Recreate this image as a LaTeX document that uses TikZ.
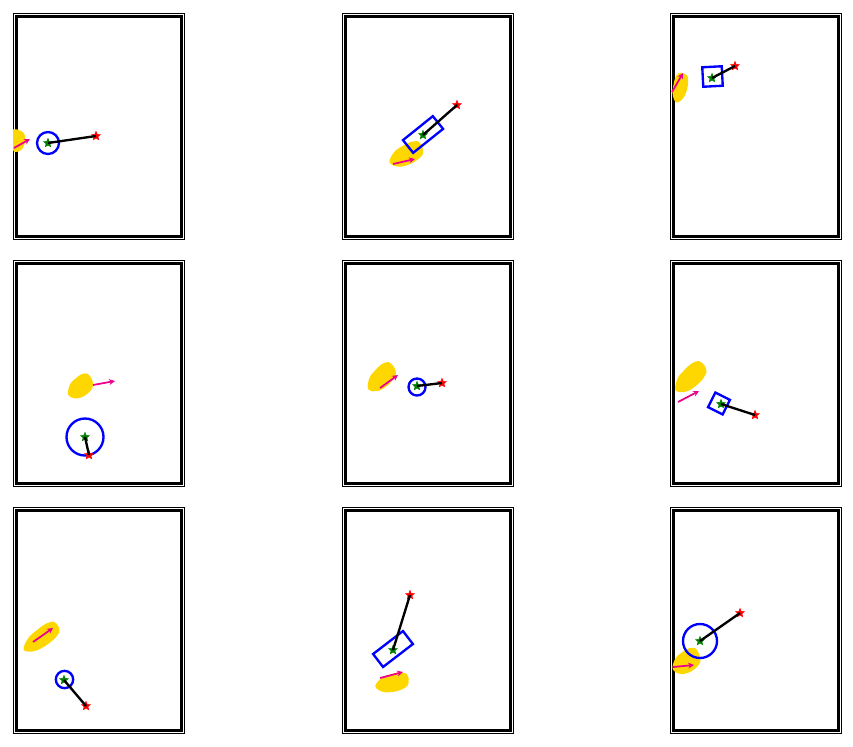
\documentclass[tikz,border=0pt]{standalone}
\usepackage{tikz}
\usetikzlibrary{shapes.geometric, arrows.meta}
\definecolor{gold}{RGB}{255,215,0}
\definecolor{dkgreen}{RGB}{0,128,0}

\begin{document}
\begin{tikzpicture}[x=0.03cm, y=-0.03cm,
    ring/.style={circle, draw=blue, line width=2pt, inner sep=0pt, outer sep=0pt},
    box/.style={rectangle, draw=blue, line width=2pt, inner sep=0pt, outer sep=0pt},
    startstar/.style={star, star points=5, star point ratio=2.3, fill=dkgreen, draw=dkgreen, minimum size=0.28cm, inner sep=0pt},
    goalstar/.style={startstar, fill=red, draw=red},
    link/.style={line width=2pt, black},
    heading/.style={-{Stealth[length=5pt, width=5pt]}, magenta, line width=1.5pt},
    blob/.pic={\fill[gold] plot[smooth cycle] coordinates {(-1,0.15) (-0.8,-0.3) (-0.45,-0.7) (0.05,-0.9) (0.5,-1) (0.9,-0.8) (1,-0.2) (0.9,0.4) (0.5,0.75) (0,0.9) (-0.5,0.85) (-0.85,0.55)};}
]
    \useasboundingbox (0,0) rectangle (853,746);

    % frames
    \foreach \ox in {13,342,670}
      \foreach \oy in {13,260,507} {
        \draw[line width=0.6pt] (\ox,\oy) rectangle ++(171.5,226.5);
        \draw[line width=2.5pt] (\ox+3.5,\oy+3.5) rectangle ++(165,220);
      }

    % panel 1
    \begin{scope}
      \clip (13,13) rectangle ++(171.5,226.5);
      \pic[rotate=70, xscale=11, yscale=9] at (17,141) {blob};
    \end{scope}
    \coordinate (h1a) at (14,148); \coordinate (h1b) at (30,139);
    \draw[heading] (h1a) -- (h1b);
    \node[ring, minimum size=0.66cm] (b1) at (48,143) {};
    \node[startstar] (g1) at (48,143) {};
    \node[goalstar] (r1) at (96,136) {};
    \draw[link] (g1.center) -- (r1.center);

    % panel 2
    \pic[rotate=18, xscale=18, yscale=11] at (406,155) {blob};
    \coordinate (h2a) at (393,164); \coordinate (h2b) at (415,159);
    \draw[heading] (h2a) -- (h2b);
    \node[box, rotate=38.7, minimum width=1.15cm, minimum height=0.49cm] (b2) at (423,134.5) {};
    \node[startstar] (g2) at (423,135) {};
    \node[goalstar] (r2) at (457,105) {};
    \draw[link] (g2.center) -- (r2.center);

    % panel 3
    \begin{scope}
      \clip (670,13) rectangle ++(171.5,226.5);
      \pic[rotate=70, xscale=15, yscale=8] at (680,88) {blob};
    \end{scope}
    \coordinate (h3a) at (672,92); \coordinate (h3b) at (683,73);
    \draw[heading] (h3a) -- (h3b);
    \node[box, rotate=3, minimum size=0.585cm] (b3) at (712.5,76.5) {};
    \node[startstar] (g3) at (712,78) {};
    \node[goalstar] (r3) at (735,66) {};
    \draw[link] (g3.center) -- (r3.center);

    % panel 4
    \pic[rotate=25, xscale=14, yscale=11] at (80,387) {blob};
    \coordinate (h4a) at (93,385); \coordinate (h4b) at (115,381);
    \draw[heading] (h4a) -- (h4b);
    \node[ring, minimum size=1.11cm] (b4) at (85,437) {};
    \node[startstar] (g4) at (85,437) {};
    \node[goalstar] (r4) at (89,455) {};
    \draw[link] (g4.center) -- (r4.center);

    % panel 5
    \pic[rotate=35, xscale=17, yscale=11] at (381,378) {blob};
    \coordinate (h5a) at (380,388); \coordinate (h5b) at (398,375);
    \draw[heading] (h5a) -- (h5b);
    \node[ring, minimum size=0.51cm] (b5) at (417,387) {};
    \node[startstar] (g5) at (417,386) {};
    \node[goalstar] (r5) at (442,383) {};
    \draw[link] (g5.center) -- (r5.center);

    % panel 6
    \pic[rotate=35, xscale=19, yscale=11] at (690,378) {blob};
    \coordinate (h6a) at (678,402); \coordinate (h6b) at (699,391);
    \draw[heading] (h6a) -- (h6b);
    \node[box, rotate=-26.6, minimum size=0.49cm] (b6) at (719,403.5) {};
    \node[startstar] (g6) at (721,404) {};
    \node[goalstar] (r6) at (755,415) {};
    \draw[link] (g6.center) -- (r6.center);

    % panel 7
    \pic[rotate=30, xscale=21, yscale=10] at (41,638) {blob};
    \coordinate (h7a) at (33,642); \coordinate (h7b) at (53,628);
    \draw[heading] (h7a) -- (h7b);
    \node[ring, minimum size=0.52cm] (b7) at (64.5,679.5) {};
    \node[startstar] (g7) at (64,680) {};
    \node[goalstar] (r7) at (86,706) {};
    \draw[link] (g7.center) -- (r7.center);

    % panel 8
    \pic[rotate=5, xscale=17, yscale=10] at (392,683) {blob};
    \coordinate (h8a) at (380,678); \coordinate (h8b) at (403,672);
    \draw[heading] (h8a) -- (h8b);
    \node[box, rotate=37.5, minimum width=1.13cm, minimum height=0.49cm] (b8) at (393,649) {};
    \node[startstar] (g8) at (393,650) {};
    \node[goalstar] (r8) at (410,595) {};
    \draw[link] (g8.center) -- (r8.center);

    % panel 9
    \begin{scope}
      \clip (670,507) rectangle ++(171.5,226.5);
      \pic[rotate=20, xscale=15, yscale=12] at (686,662) {blob};
    \end{scope}
    \coordinate (h9a) at (673,667); \coordinate (h9b) at (694,665);
    \draw[heading] (h9a) -- (h9b);
    \node[ring, minimum size=1.02cm] (b9) at (700,641) {};
    \node[startstar] (g9) at (700,641) {};
    \node[goalstar] (r9) at (740,613) {};
    \draw[link] (g9.center) -- (r9.center);
\end{tikzpicture}
\end{document}
